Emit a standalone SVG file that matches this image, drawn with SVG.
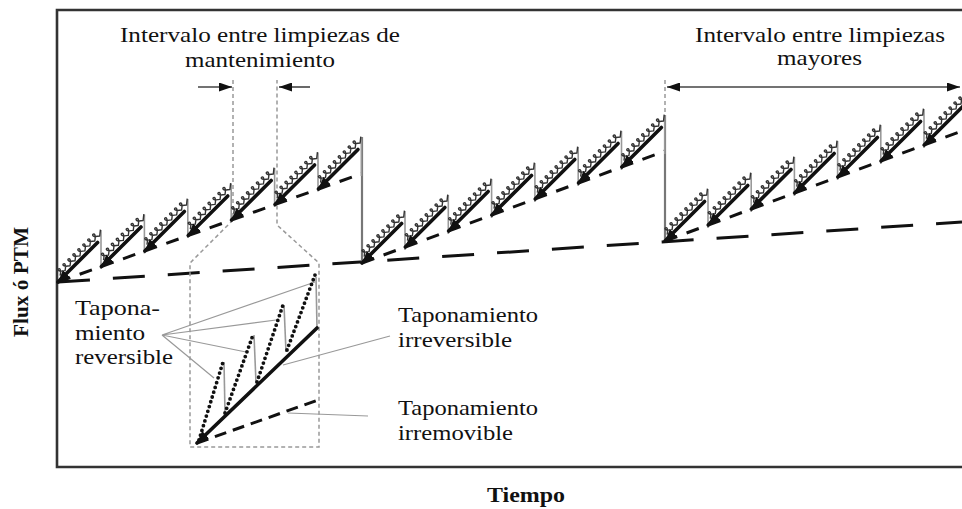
<svg xmlns="http://www.w3.org/2000/svg" width="962" height="509" viewBox="0 0 962 509">
<defs>
<style>
 .t{font-family:"Liberation Serif","Times New Roman",serif;font-size:21px;fill:#111}
 .b{font-weight:bold;font-size:20px}
 .thick{stroke:#111;stroke-width:3.6;fill:none;stroke-linecap:round}
 .ser{stroke:#333;stroke-width:1.4;fill:none}
 .drop{stroke:#999;stroke-width:1.6}
 .big{stroke:#777;stroke-width:2.2}
 .md{stroke:#111;stroke-width:3;stroke-dasharray:13 10;fill:none}
 .ld{stroke:#111;stroke-width:3;stroke-dasharray:32 23;fill:none}
 .box{stroke:#999;stroke-width:1.5;stroke-dasharray:4 3;fill:none}
 .lead{stroke:#999;stroke-width:1.2;fill:none}
 .dot{stroke:#111;stroke-width:3.8;stroke-dasharray:0 5;stroke-linecap:round;fill:none}
 .arr{stroke:#444;stroke-width:1.6;fill:none}
</style>
<marker id="ah" markerUnits="userSpaceOnUse" markerWidth="12" markerHeight="10" refX="12" refY="5" orient="auto-start-reverse"><path d="M0,0 L12,5 L0,10 Z" fill="#111"/></marker>
<marker id="ah2" markerUnits="userSpaceOnUse" markerWidth="13" markerHeight="9" refX="13" refY="4.5" orient="auto-start-reverse"><path d="M0,0 L13,4.5 L0,9 Z" fill="#111"/></marker>
<g id="tooth">
 <line class="drop" x1="43" y1="-52" x2="43" y2="-13"/>
 <g transform="rotate(-45)">
  <path class="ser" d="M6,-3 c12,-8 -5,-8 7,0 c12,-8 -5,-8 7,0 c12,-8 -5,-8 7,0 c12,-8 -5,-8 7,0 c12,-8 -5,-8 7,0 c12,-8 -5,-8 7,0 c12,-8 -5,-8 7,0 c12,-8 -5,-8 7,0 l5,-4"/>
  <line class="thick" x1="0" y1="0" x2="56" y2="0" marker-start="url(#ah)"/>
 </g>
</g>
</defs>
<rect width="962" height="509" fill="#fff"/>
<g id="frame"><path d="M962,10 H57 V467 H962" fill="none" stroke="#333" stroke-width="2.6"/></g>

<g id="connectors">
 <path class="ld" d="M58,282 L962,222"/>
 <path class="md" d="M58,282 L362,173.5"/>
 <path class="md" d="M362,263 L665,151"/>
 <path class="md" d="M665,241 L962,131"/>
 <line class="big" x1="362" y1="137" x2="362" y2="263"/>
 <line class="big" x1="665" y1="115" x2="665" y2="241"/>
 <line class="box" x1="665" y1="80" x2="665" y2="115"/>
 <path class="box" d="M233,80 V220 L190,263 V447 H319 V263 L277,225 V80"/>
 <line class="arr" x1="198" y1="87" x2="232" y2="87" marker-end="url(#ah2)"/>
 <line class="arr" x1="310" y1="87" x2="279" y2="87" marker-end="url(#ah2)"/>
 <line class="arr" x1="667" y1="87" x2="960" y2="87" marker-start="url(#ah2)" marker-end="url(#ah2)"/>
</g>

<g id="cycle1">
 <use href="#tooth" x="58" y="282"/>
 <use href="#tooth" x="101.4" y="266.5"/>
 <use href="#tooth" x="144.8" y="251"/>
 <use href="#tooth" x="188.2" y="235.5"/>
 <use href="#tooth" x="231.6" y="220"/>
 <use href="#tooth" x="275" y="204.5"/>
 <use href="#tooth" x="318.4" y="189"/>
</g>
<g id="cycle2">
 <use href="#tooth" x="362" y="263"/>
 <use href="#tooth" x="405.3" y="247"/>
 <use href="#tooth" x="448.6" y="231"/>
 <use href="#tooth" x="491.9" y="215"/>
 <use href="#tooth" x="535.2" y="199"/>
 <use href="#tooth" x="578.5" y="183"/>
 <use href="#tooth" x="621.8" y="167"/>
</g>
<g id="cycle3">
 <use href="#tooth" x="665" y="241"/>
 <use href="#tooth" x="708.2" y="225"/>
 <use href="#tooth" x="751.4" y="209"/>
 <use href="#tooth" x="794.6" y="193"/>
 <use href="#tooth" x="837.8" y="177"/>
 <use href="#tooth" x="881" y="161"/>
 <use href="#tooth" x="924.2" y="145"/>
</g>

<g id="inset">
 <line class="drop" x1="224" y1="362" x2="225" y2="413"/>
 <line class="drop" x1="254" y1="335" x2="256" y2="383"/>
 <line class="drop" x1="284" y1="305" x2="286" y2="352"/>
 <line class="drop" x1="316" y1="277" x2="317" y2="328"/>
 <path class="lead" d="M162,335 L315,282 M162,335 L276,320 M162,335 L246,352 M162,335 L214,378"/>
 <path class="lead" d="M283,365 L390,336"/>
 <path class="lead" d="M288,413 L368,416"/>
 <path class="md" d="M197,443 L318,400" style="stroke-dasharray:12 7"/>
 <line class="thick" x1="197" y1="443" x2="317" y2="328" marker-start="url(#ah)"/>
 <path class="dot" d="M199,440 L223,362 M225,413 L253,335 M257,382 L283,305 M287,350 L315,275"/>
</g>

<g id="labels">
 <text class="t" x="120" y="42" textLength="280" lengthAdjust="spacingAndGlyphs">Intervalo entre limpiezas de</text>
 <text class="t" x="185" y="67" textLength="150" lengthAdjust="spacingAndGlyphs">mantenimiento</text>
 <text class="t" x="695" y="42" textLength="250" lengthAdjust="spacingAndGlyphs">Intervalo entre limpiezas</text>
 <text class="t" x="777" y="65" textLength="85" lengthAdjust="spacingAndGlyphs">mayores</text>
 <text class="t" x="75" y="315" textLength="85" lengthAdjust="spacingAndGlyphs">Tapona-</text>
 <text class="t" x="75" y="340" textLength="70" lengthAdjust="spacingAndGlyphs">miento</text>
 <text class="t" x="75" y="364" textLength="98" lengthAdjust="spacingAndGlyphs">reversible</text>
 <text class="t" x="398" y="322" textLength="140" lengthAdjust="spacingAndGlyphs">Taponamiento</text>
 <text class="t" x="398" y="347" textLength="114" lengthAdjust="spacingAndGlyphs">irreversible</text>
 <text class="t" x="398" y="415" textLength="140" lengthAdjust="spacingAndGlyphs">Taponamiento</text>
 <text class="t" x="398" y="440" textLength="115" lengthAdjust="spacingAndGlyphs">irremovible</text>
 <text class="t b" x="487" y="502" textLength="78" lengthAdjust="spacingAndGlyphs">Tiempo</text>
 <text class="t b" transform="translate(28,337) rotate(-90)" x="0" y="0" textLength="110" lengthAdjust="spacingAndGlyphs">Flux ó PTM</text>
</g>
</svg>
